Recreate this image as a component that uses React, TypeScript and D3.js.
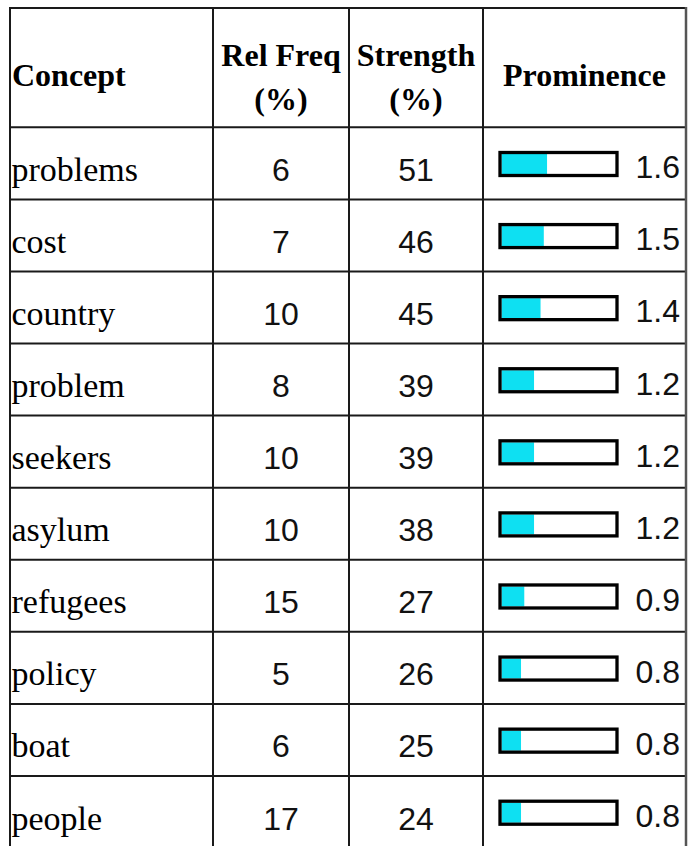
import React from "react";
import * as d3 from "d3";

const concepts = ["problems", "cost", "country", "problem", "seekers", "asylum", "refugees", "policy", "boat", "people"];
const relFreq = [6, 7, 10, 8, 10, 10, 15, 5, 6, 17];
const strength = [51, 46, 45, 39, 39, 38, 27, 26, 25, 24];
const prominence = [1.6, 1.5, 1.4, 1.2, 1.2, 1.2, 0.9, 0.8, 0.8, 0.8];
const headers = [["Concept"], ["Rel Freq", "(%)"], ["Strength", "(%)"], ["Prominence"]];

const W = 696;
const H = 846;
const colEdges = [10, 213, 349, 483, 686];
const tableTop = 8;
const headerBottom = 127.3;
const rowH = 72.08;

export default function App() {
  const y = d3
    .scaleBand<string>()
    .domain(concepts)
    .range([headerBottom, headerBottom + rowH * concepts.length])
    .paddingInner(0)
    .paddingOuter(0);
  const barX0 = 500;
  const barW = 117;
  const barH = 23;
  const fillScale = d3.scaleLinear().domain([0.2, 3.75]).range([0, barW - 1.5]);
  const serif = "'Liberation Serif', 'Times New Roman', serif";
  const sans = "'Liberation Sans', Arial, sans-serif";
  const lineColor = "#1a1a1a";

  const hLines = [tableTop, headerBottom, ...concepts.map((c) => (y(c) as number) + y.bandwidth())];

  return (
    <svg
      width={W}
      height={H}
      style={{ position: "fixed", left: 0, top: 0, background: "#fff" }}
    >
      <rect x={0} y={0} width={W} height={H} fill="#fff" />
      {/* header text */}
      {headers.map((lines, i) => {
        const cx = (colEdges[i] + colEdges[i + 1]) / 2;
        if (lines.length === 1) {
          return (
            <text
              key={i}
              x={i === 0 ? 12 : cx}
              y={86}
              textAnchor={i === 0 ? "start" : "middle"}
              fontFamily={serif}
              fontWeight="bold"
              fontSize={32}
              fill="#000"
            >
              {lines[0]}
            </text>
          );
        }
        return (
          <g key={i}>
            {lines.map((t, j) => (
              <text
                key={j}
                x={cx}
                y={j === 0 ? 66 : 110}
                textAnchor="middle"
                fontFamily={serif}
                fontWeight="bold"
                fontSize={32}
                fill="#000"
              >
                {t}
              </text>
            ))}
          </g>
        );
      })}
      {/* rows */}
      {concepts.map((c, i) => {
        const top = y(c) as number;
        const base = top + 53.5;
        const boxTop = top + 25.2;
        return (
          <g key={c}>
            <text x={11.5} y={base} fontFamily={serif} fontSize={34} fill="#000">
              {c}
            </text>
            <text
              x={(colEdges[1] + colEdges[2]) / 2}
              y={base}
              textAnchor="middle"
              fontFamily={sans}
              fontSize={32}
              fill="#111"
            >
              {relFreq[i]}
            </text>
            <text
              x={(colEdges[2] + colEdges[3]) / 2}
              y={base}
              textAnchor="middle"
              fontFamily={sans}
              fontSize={32}
              fill="#111"
            >
              {strength[i]}
            </text>
            <rect
              x={barX0 + 1.5}
              y={boxTop + 1.5}
              width={fillScale(prominence[i])}
              height={barH - 3}
              fill="#0ee0f2"
            />
            <rect
              x={barX0}
              y={boxTop}
              width={barW}
              height={barH}
              fill="none"
              stroke="#000"
              strokeWidth={3.3}
            />
            <text
              x={680}
              y={top + 51}
              textAnchor="end"
              fontFamily={sans}
              fontSize={32}
              fill="#111"
            >
              {prominence[i].toFixed(1)}
            </text>
          </g>
        );
      })}
      {/* grid lines */}
      {hLines.map((yy, i) => (
        <line key={"h" + i} x1={colEdges[0] - 1} x2={colEdges[4] + 1} y1={yy} y2={yy} stroke={lineColor} strokeWidth={2} />
      ))}
      {colEdges.map((xx, i) => (
        <line
          key={"v" + i}
          x1={xx}
          x2={xx}
          y1={tableTop - 1}
          y2={H}
          stroke={i === colEdges.length - 1 ? "#555" : lineColor}
          strokeWidth={i === colEdges.length - 1 ? 2.5 : 2}
        />
      ))}
    </svg>
  );
}
